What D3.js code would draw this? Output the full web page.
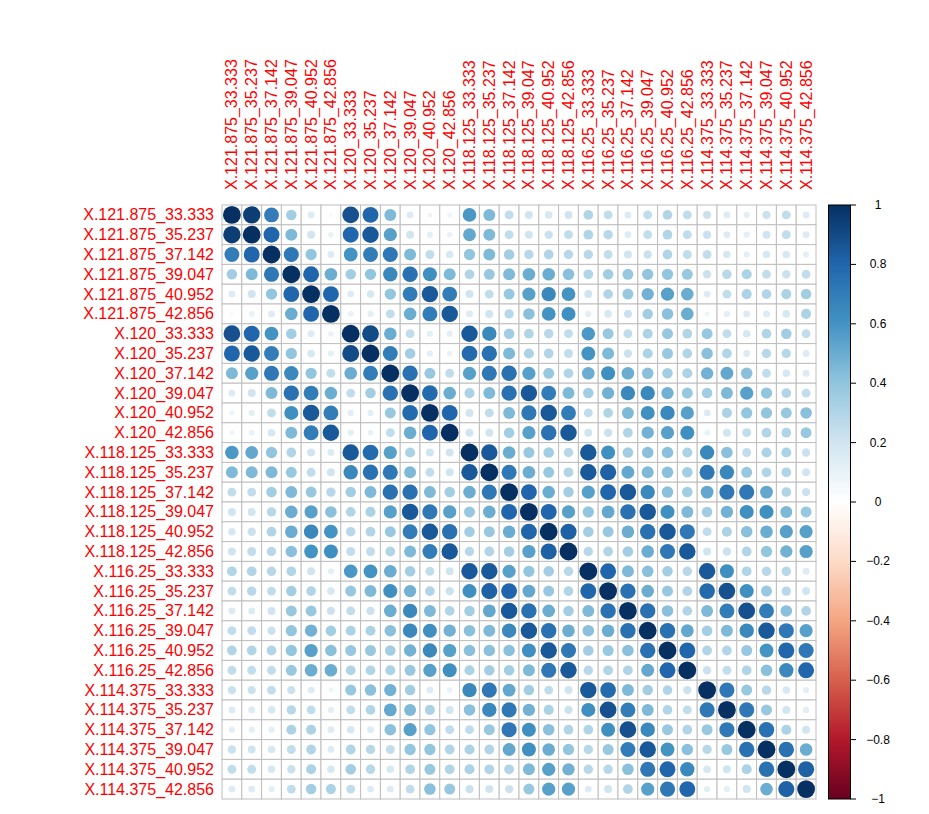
<!DOCTYPE html>
<html>
<head>
<meta charset="utf-8">
<script src="https://cdn.jsdelivr.net/npm/d3@7"></script>
<style>
  html, body { margin: 0; padding: 0; background: #ffffff; }
  svg { display: block; }
  text { font-family: "Liberation Sans", Arial, sans-serif; }
</style>
</head>
<body>
<svg id="chart" width="929" height="814"></svg>
<script>
// ---- data ----
const lons = ["121.875", "120", "118.125", "116.25", "114.375"];
const lats = ["33.333", "35.237", "37.142", "39.047", "40.952", "42.856"];
const labels = [];
lons.forEach(lo => lats.forEach(la => labels.push("X." + lo + "_" + la)));

// upper triangle of the correlation matrix, row i holds columns i..29
const upper = [
  [1, 0.95, 0.7, 0.35, 0.15, 0.05, 0.88, 0.8, 0.45, 0.15, 0.08, 0.08, 0.58, 0.45, 0.25, 0.2, 0.18, 0.2, 0.3, 0.25, 0.15, 0.25, 0.3, 0.25, 0.22, 0.15, 0.12, 0.22, 0.25, 0.15],
  [1, 0.8, 0.45, 0.2, 0.1, 0.8, 0.85, 0.55, 0.2, 0.12, 0.1, 0.52, 0.45, 0.25, 0.2, 0.22, 0.25, 0.3, 0.28, 0.15, 0.25, 0.3, 0.25, 0.22, 0.15, 0.12, 0.2, 0.25, 0.15],
  [1, 0.72, 0.4, 0.15, 0.6, 0.7, 0.72, 0.45, 0.25, 0.18, 0.4, 0.45, 0.35, 0.28, 0.3, 0.28, 0.28, 0.25, 0.2, 0.22, 0.3, 0.25, 0.25, 0.18, 0.12, 0.18, 0.18, 0.12],
  [1, 0.8, 0.5, 0.35, 0.4, 0.65, 0.75, 0.62, 0.45, 0.3, 0.38, 0.45, 0.5, 0.5, 0.42, 0.3, 0.35, 0.38, 0.4, 0.4, 0.38, 0.22, 0.28, 0.32, 0.25, 0.22, 0.25],
  [1, 0.8, 0.15, 0.18, 0.4, 0.7, 0.85, 0.7, 0.2, 0.25, 0.38, 0.55, 0.65, 0.6, 0.2, 0.3, 0.38, 0.48, 0.55, 0.5, 0.15, 0.25, 0.32, 0.3, 0.32, 0.35],
  [1, 0.1, 0.12, 0.25, 0.5, 0.7, 0.85, 0.15, 0.2, 0.28, 0.42, 0.6, 0.62, 0.12, 0.18, 0.22, 0.35, 0.42, 0.5, 0.08, 0.12, 0.15, 0.15, 0.18, 0.32],
  [1, 0.9, 0.5, 0.25, 0.12, 0.12, 0.85, 0.65, 0.35, 0.3, 0.28, 0.25, 0.58, 0.38, 0.25, 0.32, 0.38, 0.3, 0.38, 0.25, 0.18, 0.3, 0.35, 0.25],
  [1, 0.7, 0.35, 0.12, 0.1, 0.78, 0.75, 0.45, 0.32, 0.3, 0.25, 0.6, 0.45, 0.22, 0.32, 0.38, 0.3, 0.42, 0.3, 0.15, 0.28, 0.28, 0.15],
  [1, 0.75, 0.38, 0.25, 0.55, 0.72, 0.75, 0.55, 0.38, 0.3, 0.5, 0.62, 0.5, 0.42, 0.35, 0.32, 0.48, 0.52, 0.42, 0.25, 0.18, 0.15],
  [1, 0.78, 0.5, 0.32, 0.45, 0.75, 0.85, 0.7, 0.45, 0.35, 0.48, 0.65, 0.65, 0.48, 0.38, 0.35, 0.45, 0.55, 0.4, 0.3, 0.25],
  [1, 0.8, 0.2, 0.25, 0.45, 0.72, 0.85, 0.7, 0.25, 0.3, 0.45, 0.62, 0.65, 0.55, 0.15, 0.32, 0.4, 0.4, 0.38, 0.42],
  [1, 0.2, 0.2, 0.35, 0.55, 0.75, 0.85, 0.2, 0.22, 0.3, 0.48, 0.55, 0.62, 0.1, 0.2, 0.25, 0.3, 0.3, 0.38],
  [1, 0.85, 0.5, 0.38, 0.35, 0.28, 0.85, 0.62, 0.35, 0.42, 0.42, 0.32, 0.65, 0.42, 0.25, 0.32, 0.32, 0.22],
  [1, 0.72, 0.5, 0.38, 0.3, 0.85, 0.82, 0.52, 0.45, 0.42, 0.35, 0.72, 0.65, 0.38, 0.3, 0.3, 0.2],
  [1, 0.8, 0.5, 0.35, 0.55, 0.8, 0.85, 0.65, 0.42, 0.35, 0.52, 0.72, 0.72, 0.52, 0.3, 0.22],
  [1, 0.8, 0.55, 0.4, 0.52, 0.75, 0.85, 0.62, 0.45, 0.35, 0.48, 0.62, 0.62, 0.45, 0.38],
  [1, 0.82, 0.35, 0.38, 0.5, 0.75, 0.85, 0.72, 0.25, 0.32, 0.42, 0.5, 0.55, 0.55],
  [1, 0.28, 0.3, 0.35, 0.5, 0.72, 0.85, 0.2, 0.22, 0.3, 0.4, 0.48, 0.55],
  [1, 0.8, 0.45, 0.42, 0.35, 0.28, 0.85, 0.62, 0.3, 0.28, 0.28, 0.15],
  [1, 0.75, 0.5, 0.38, 0.3, 0.78, 0.88, 0.62, 0.38, 0.28, 0.2],
  [1, 0.75, 0.42, 0.3, 0.45, 0.7, 0.88, 0.7, 0.42, 0.3],
  [1, 0.75, 0.52, 0.35, 0.45, 0.65, 0.85, 0.72, 0.55],
  [1, 0.8, 0.3, 0.3, 0.38, 0.6, 0.8, 0.72],
  [1, 0.22, 0.25, 0.3, 0.42, 0.65, 0.8],
  [1, 0.72, 0.38, 0.28, 0.18, 0.12],
  [1, 0.72, 0.38, 0.2, 0.12],
  [1, 0.75, 0.32, 0.2],
  [1, 0.75, 0.5],
  [1, 0.82],
  [1]
];

const legendTicks = [1, 0.8, 0.6, 0.4, 0.2, 0, -0.2, -0.4, -0.6, -0.8, -1];
const paletteColors = ["#67001F", "#B2182B", "#D6604D", "#F4A582", "#FDDBC7", "#FFFFFF",
                       "#D1E5F0", "#92C5DE", "#4393C3", "#2166AC", "#053061"];

// ---- build full matrix ----
const n = labels.length;
const cells = [];
for (let i = 0; i < n; i++) {
  for (let j = 0; j < n; j++) {
    const v = j >= i ? upper[i][j - i] : upper[j][i - j];
    cells.push({ i, j, v });
  }
}

// ---- scales ----
const svg = d3.select("#chart");
const x = d3.scaleBand().domain(d3.range(n)).range([222, 816]).paddingInner(0).paddingOuter(0);
const y = d3.scaleBand().domain(d3.range(n)).range([205, 799]).paddingInner(0).paddingOuter(0);
const color = d3.scaleLinear()
  .domain(d3.range(paletteColors.length).map(k => -1 + 2 * k / (paletteColors.length - 1)))
  .range(paletteColors)
  .interpolate(d3.interpolateRgb);
const cs = x.bandwidth();
const rScale = d3.scaleSqrt().domain([0, 1]).range([0, 0.45 * cs]);

// ---- grid cells ----
svg.append("g").selectAll("rect")
  .data(cells).join("rect")
  .attr("x", d => x(d.j))
  .attr("y", d => y(d.i))
  .attr("width", cs)
  .attr("height", cs)
  .attr("fill", "#ffffff")
  .attr("stroke", "#BEBEBE")
  .attr("stroke-width", 1);

// ---- circles ----
svg.append("g").selectAll("circle")
  .data(cells).join("circle")
  .attr("cx", d => x(d.j) + cs / 2)
  .attr("cy", d => y(d.i) + cs / 2)
  .attr("r", d => rScale(Math.abs(d.v)))
  .attr("fill", d => color(d.v));

// ---- row labels ----
svg.append("g").selectAll("text")
  .data(labels).join("text")
  .attr("x", 214)
  .attr("y", (d, k) => y(k) + cs / 2)
  .attr("text-anchor", "end")
  .attr("dominant-baseline", "central")
  .attr("font-size", 16)
  .attr("fill", "#FF0000")
  .text(d => d);

// ---- column labels ----
svg.append("g").selectAll("text")
  .data(labels).join("text")
  .attr("transform", (d, k) => `translate(${x(k) + cs / 2},190) rotate(-90)`)
  .attr("text-anchor", "start")
  .attr("dominant-baseline", "central")
  .attr("font-size", 16)
  .attr("fill", "#FF0000")
  .text(d => d);

// ---- color legend ----
const ly = d3.scaleLinear().domain([-1, 1]).range([799, 205]);
const defs = svg.append("defs");
const grad = defs.append("linearGradient").attr("id", "cbar")
  .attr("x1", 0).attr("y1", 1).attr("x2", 0).attr("y2", 0);
d3.range(0, 101).forEach(k => {
  const v = -1 + 2 * k / 100;
  grad.append("stop").attr("offset", (k) + "%").attr("stop-color", color(v));
});
svg.append("rect")
  .attr("x", 828.5).attr("y", ly(1))
  .attr("width", 22).attr("height", ly(-1) - ly(1))
  .attr("fill", "url(#cbar)")
  .attr("stroke", "#000").attr("stroke-width", 1);

const lg = svg.append("g");
lg.selectAll("line").data(legendTicks).join("line")
  .attr("x1", 850.5).attr("x2", 856)
  .attr("y1", d => ly(d)).attr("y2", d => ly(d))
  .attr("stroke", "#000").attr("stroke-width", 1);
lg.selectAll("text").data(legendTicks).join("text")
  .attr("x", 878)
  .attr("y", d => ly(d))
  .attr("text-anchor", "middle")
  .attr("dominant-baseline", "central")
  .attr("font-size", 12)
  .attr("fill", "#000")
  .text(d => d3.format("")(d));
</script>
</body>
</html>
